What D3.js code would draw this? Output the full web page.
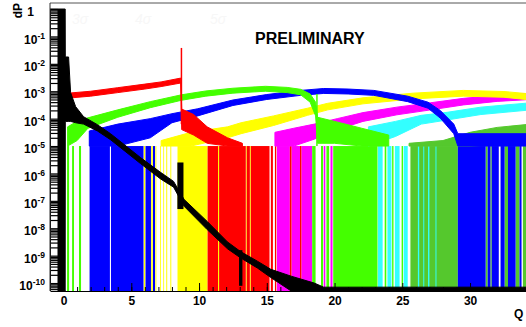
<!DOCTYPE html>
<html>
<head>
<meta charset="utf-8">
<script src="https://cdn.jsdelivr.net/npm/d3@7"></script>
<style>
  body { margin: 0; background: #fff; }
  svg { display: block; font-family: "Liberation Sans", Arial, sans-serif; }
</style>
</head>
<body>
<svg id="chart" width="526" height="327"></svg>
<script>
// values are log10(dP); bands are [Q, upper edge, lower edge] of the noisy histogram line
const xTicks = [0, 5, 10, 15, 20, 25, 30];
const yExponents = [0, -1, -2, -3, -4, -5, -6, -7, -8, -9, -10];
const floorExp = -10.3;
const oneCountExp = -5.0;   // level of a single entry: sparse bins alternate 0 / one entry

const redBand = [[0.35, -3.07, -3.25], [2, -3.0, -3.18], [4, -2.87, -3.05], [6, -2.74, -2.92], [7.2, -2.66, -2.83],
  [8.65, -2.52, -2.7], [8.72, -3.65, -4.4], [9.6, -3.85, -4.6], [10.6, -4.3, -4.9], [12.1, -4.7, -5.0], [13.2, -4.9, -5.0]];
const greenBand = [[0.3, -4.3, -5.0], [1.0, -4.1, -4.8], [1.8, -3.97, -4.35], [4.0, -3.68, -3.95], [6.4, -3.38, -3.6],
  [8.7, -3.13, -3.33], [10.5, -2.99, -3.18], [12.5, -2.89, -3.07], [14.9, -2.82, -3.0], [16.5, -2.86, -3.05],
  [17.5, -2.93, -3.13], [18.2, -3.1, -3.4], [18.6, -3.4, -3.9], [18.75, -3.95, -4.9], [20, -4.1, -4.9],
  [22, -4.35, -5.0], [24, -4.6, -5.0]];
const blueBand = [[1.9, -4.45, -5.0], [4.0, -4.2, -5.0], [6.4, -4.0, -4.7], [8.0, -3.82, -4.15], [9.9, -3.64, -3.9],
  [12.5, -3.32, -3.52], [15, -3.12, -3.3], [17.5, -2.97, -3.15], [19.2, -2.9, -3.08], [21, -2.92, -3.1],
  [22.9, -2.97, -3.15], [25.4, -3.18, -3.38], [26.9, -3.4, -3.62], [27.8, -3.7, -3.98], [28.8, -4.2, -4.55],
  [29.1, -4.55, -5.0], [34.5, -4.55, -5.0]];
const yellowBand = [[7.2, -4.8, -5.0], [9.4, -4.5, -5.0], [12.1, -4.3, -4.7], [13.1, -4.15, -4.55], [15.5, -3.9, -4.25],
  [18, -3.62, -3.88], [19.5, -3.44, -3.68], [22.1, -3.24, -3.46], [25.8, -3.07, -3.28], [29.5, -2.97, -3.18],
  [32.5, -3.01, -3.22], [34.5, -3.1, -3.32]];
const magentaBand = [[15.6, -4.5, -5.0], [17, -4.35, -5.0], [18.5, -4.2, -4.75], [20.2, -4.0, -4.4], [22.1, -3.78, -4.1],
  [24.6, -3.58, -3.86], [27.1, -3.42, -3.68], [29.5, -3.26, -3.5], [32, -3.15, -3.37], [34.5, -3.07, -3.3]];
const cyanBand = [[22.5, -4.3, -5.0], [24.5, -4.1, -4.65], [26.4, -3.88, -4.2], [28.3, -3.77, -4.05],
  [30.8, -3.58, -3.85], [34.5, -3.42, -3.68]];
const darkGreenBand = [[25.5, -4.9, -5.0], [28, -4.8, -5.0], [30, -4.5, -5.0], [32, -4.32, -4.95], [34.5, -4.2, -4.9]];
const blackBand = [[-1, 0, -10.3], [0.12, 0, -10.3], [0.13, -1.75, -4.1], [0.37, -1.75, -4.1], [0.52, -3.05, -4.1],
  [0.89, -3.56, -4.15], [1.48, -3.93, -4.2], [2.5, -4.22, -4.45], [3.47, -4.55, -4.77], [5.68, -5.42, -5.64],
  [7.16, -5.96, -6.2], [8.12, -6.29, -6.5], [8.9, -6.95, -7.2], [10.6, -7.75, -8.05], [12.1, -8.5, -8.75],
  [13.06, -8.85, -9.08], [14.3, -9.2, -9.45], [15.3, -9.5, -9.8], [16.8, -9.75, -10.3], [18.5, -10.0, -10.3],
  [19.2, -10.15, -10.3], [40, -10.15, -10.3]];

// Q ranges where the sparse histogram fills down to the axis
const redFill = [[10.63, 11.4], [11.48, 13.45], [13.52, 13.75], [13.82, 15.2], [15.3, 15.45], [15.6, 15.7], [16.7, 16.82], [17.45, 17.55]];
const greenFill = [[0.26, 0.41], [0.63, 0.77], [1.14, 1.29], [18.35, 18.6], [19.0, 19.15], [19.4, 19.6], [19.9, 23.17],
  [23.7, 23.82], [24.25, 24.35], [24.95, 25.05]];
const blueFill = [[1.92, 3.42], [3.5, 5.9], [6.05, 6.45], [6.6, 6.75], [29.1, 31.15], [31.3, 31.5], [31.6, 32.12],
  [32.25, 32.55], [32.8, 33.36], [33.65, 33.8]];
const yellowFill = [[5.92, 6.03], [6.47, 6.58], [6.78, 6.85], [7.12, 7.18], [7.36, 7.42], [7.58, 7.65], [7.88, 7.95],
  [8.41, 10.63], [11.4, 11.48], [13.45, 13.52], [13.75, 13.82]];
const magentaFill = [[15.75, 16.7], [16.82, 17.45], [17.55, 18.35], [19.2, 19.32], [19.7, 19.85]];
const cyanFill = [[17.05, 17.12], [23.2, 23.55], [23.9, 24.2], [24.45, 24.8], [25.1, 25.4], [26.15, 26.25],
  [26.55, 26.62], [26.9, 27.0], [27.45, 27.52]];
const darkGreenFill = [[25.6, 29.1], [31.15, 31.3], [31.5, 31.6], [32.55, 32.8], [33.36, 33.65], [33.9, 34.5]];

// single-bin spikes [Q, top, bottom]
const redSpikes = [[8.7, -1.42, -4.2]];
const greenSpikes = [[18.7, -3.1, -5.0]];
// wide black bins [Q from, Q to, top, bottom]
const blackBars = [[8.4, 8.85, -5.6, -7.3], [12.95, 13.2, -8.8, -10.1]];

const legendLabels = ["3σ", "4σ", "5σ"];

const series = [
  { color: "#55c82d", band: darkGreenBand, fill: darkGreenFill, spikes: [] },
  { color: "#33ffff", band: cyanBand, fill: cyanFill, spikes: [] },
  { color: "#ff00ff", band: magentaBand, fill: magentaFill, spikes: [] },
  { color: "#ffff00", band: yellowBand, fill: yellowFill, spikes: [] },
  { color: "#0000ff", band: blueBand, fill: blueFill, spikes: [] },
  { color: "#44ff00", band: greenBand, fill: greenFill, spikes: greenSpikes },
  { color: "#ff0000", band: redBand, fill: redFill, spikes: redSpikes }
];

const plotLeft = 50, plotTop = 3, plotBottom = 291;
const p = e => Math.pow(10, e);

const svg = d3.select("#chart");
const x = d3.scaleLinear().domain([-1, 40]).range([plotLeft, plotLeft + 41 * 13.55]);
const y = d3.scaleLog().domain([p(-10.29), p(0.22)]).range([plotBottom, plotTop]).clamp(true);

svg.append("defs").append("clipPath").attr("id", "plot")
  .append("rect").attr("x", plotLeft).attr("y", plotTop).attr("width", 600).attr("height", plotBottom - plotTop);

const g = svg.append("g").attr("clip-path", "url(#plot)");

const area = d3.area()
  .x(d => x(d[0]))
  .y0(d => y(p(d[2])))
  .y1(d => y(p(d[1])));

// sparse fills first
series.forEach(s => {
  g.append("g").selectAll("rect").data(s.fill).enter().append("rect")
    .attr("x", d => x(d[0]))
    .attr("width", d => x(d[1]) - x(d[0]))
    .attr("y", y(p(oneCountExp)))
    .attr("height", y(p(floorExp)) - y(p(oneCountExp)))
    .attr("fill", s.color);
});

// histogram bands
series.forEach(s => {
  g.append("path").datum(s.band)
    .attr("d", area)
    .attr("fill", s.color)
    .attr("stroke", s.color)
    .attr("stroke-width", 1);
  g.append("g").selectAll("line").data(s.spikes).enter().append("line")
    .attr("x1", d => x(d[0])).attr("x2", d => x(d[0]))
    .attr("y1", d => y(p(d[1]))).attr("y2", d => y(p(d[2])))
    .attr("stroke", s.color).attr("stroke-width", 1.5);
});

// black on top
g.append("path").datum(blackBand)
  .attr("d", area).attr("fill", "#000").attr("stroke", "#000").attr("stroke-width", 1);
g.append("g").selectAll("rect").data(blackBars).enter().append("rect")
  .attr("x", d => x(d[0])).attr("width", d => x(d[1]) - x(d[0]))
  .attr("y", d => y(p(d[2]))).attr("height", d => y(p(d[3])) - y(p(d[2])))
  .attr("fill", "#000");

// y axis column: white boxes between ticks
svg.append("rect").attr("x", plotLeft + 1).attr("y", y(1)).attr("width", 6.5).attr("height", plotBottom - y(1)).attr("fill", "#fff");

const yMinor = [];
yExponents.forEach(e => { for (let k = 1; k <= 9; k++) yMinor.push(k * p(e - 1)); });
const yTickVals = yMinor.filter(v => v >= p(-10.29) && v <= 1).concat([1]);

svg.append("g").attr("transform", `translate(${plotLeft},0)`)
  .call(d3.axisRight(y).tickValues(yTickVals).tickSize(8).tickFormat(""))
  .call(a => a.select(".domain").remove())
  .call(a => a.selectAll("line").attr("stroke", "#000").attr("stroke-width", 1.2));

const yLab = svg.append("g").attr("transform", `translate(${plotLeft},0)`)
  .call(d3.axisLeft(y).tickValues(yExponents.map(p)).tickSize(0).tickPadding(5).tickFormat(""));
yLab.select(".domain").remove();
yLab.selectAll(".tick text").each(function (d) {
  const t = d3.select(this).attr("dy", "0.55em")
    .attr("font-size", 12).attr("font-weight", "bold").attr("fill", "#000");
  const e = Math.round(Math.log10(d));
  if (e === 0) {
    t.attr("x", -16).text("1");
  } else {
    t.append("tspan").text("10");
    t.append("tspan").attr("dy", -5).attr("font-size", 8.5).text(String(e));
  }
});

// x axis
svg.append("g").attr("transform", `translate(0,${plotBottom})`)
  .call(d3.axisBottom(x).tickValues(d3.range(0, 35)).tickSize(-4).tickSizeOuter(0).tickFormat(""))
  .call(a => a.select(".domain").attr("stroke", "#000"));
svg.append("g").attr("transform", `translate(0,${plotBottom})`)
  .call(d3.axisBottom(x).tickValues(xTicks).tickSize(-8).tickSizeOuter(0).tickPadding(5))
  .call(a => a.select(".domain").remove())
  .call(a => a.selectAll("text").attr("font-size", 12).attr("font-weight", "bold")
    .attr("font-family", "Liberation Sans, Arial, sans-serif").attr("fill", "#000"));

// frame
svg.append("line").attr("x1", plotLeft).attr("x2", 526).attr("y1", plotTop).attr("y2", plotTop).attr("stroke", "#555");
svg.append("line").attr("x1", plotLeft).attr("x2", plotLeft).attr("y1", plotTop).attr("y2", plotBottom).attr("stroke", "#333");

// faint legend entries
svg.append("g").selectAll("text").data(legendLabels).enter().append("text")
  .attr("x", (d, i) => [72, 135, 210][i]).attr("y", 24)
  .attr("font-size", 14).attr("font-style", "italic").attr("fill", "#f7f7f7").text(d => d);

svg.append("text").attr("x", 255).attr("y", 44)
  .attr("font-size", 16).attr("font-weight", "bold").text("PRELIMINARY");

svg.append("text").attr("transform", "translate(22,3) rotate(-90)")
  .attr("text-anchor", "end").attr("font-size", 12).attr("font-weight", "bold").text("dP");

svg.append("text").attr("x", 514).attr("y", 318)
  .attr("font-size", 12).attr("font-weight", "bold").text("Q");
</script>
</body>
</html>
